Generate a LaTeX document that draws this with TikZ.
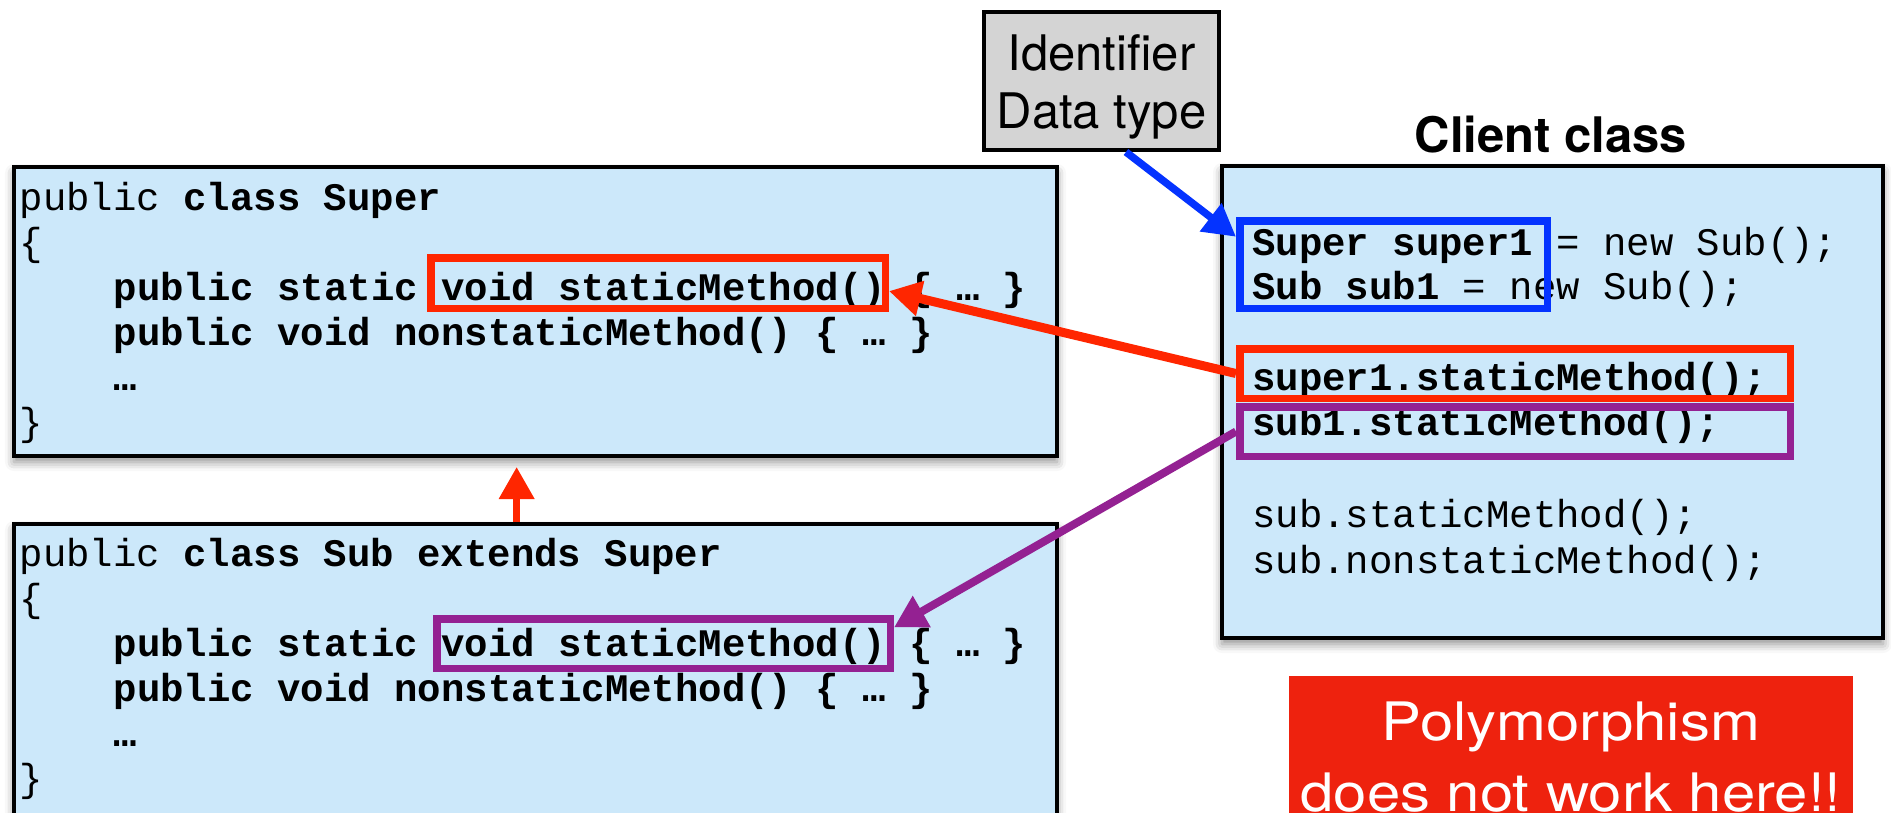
\documentclass[tikz,border=0pt]{standalone}
\usepackage{fontspec}
\usetikzlibrary{arrows.meta,shadows.blur,calc}
\newfontfamily\codefont{Liberation Mono}
\newfontfamily\labelfont{TeX Gyre Heros}
\newfontfamily\bannerfont[FakeStretch=1.13]{TeX Gyre Heros}
\definecolor{boxblue}{RGB}{204,232,250}
\definecolor{idgray}{RGB}{212,212,212}
\definecolor{hlred}{RGB}{255,38,0}
\definecolor{hlpurple}{RGB}{148,33,146}
\definecolor{hlblue}{RGB}{4,51,255}
\definecolor{bannerred}{RGB}{238,34,14}
\begin{document}
\begin{tikzpicture}[x=1pt,y=-1pt,
  codebox/.style={draw=black, line width=4pt, fill=boxblue, inner sep=0pt,
    blur shadow={shadow xshift=0pt, shadow yshift=-6pt, shadow blur radius=9pt, shadow opacity=45}},
  codeline/.style={anchor=base west, inner sep=0pt,
    font=\codefont\fontsize{39}{45}\selectfont\frenchspacing},
  hl/.style={draw=#1, line width=7.5pt, inner sep=0pt},
  pointer/.style={draw=#1, line width=8pt, -{Triangle[length=32pt,width=34pt]}},
  idtext/.style={inner sep=0pt, anchor=base, font=\labelfont\fontsize{49}{58}\selectfont},
  bannertext/.style={inner sep=0pt, anchor=base, text=white,
    font=\bannerfont\fontsize{53}{70}\selectfont},
]
\useasboundingbox (0,0) rectangle (1891,812);
\clip (0,0) rectangle (1891,812);

% class boxes
\node[codebox, minimum width=1043pt, minimum height=289pt] (superbox) at (535.5,311.5) {};
\node[codebox, minimum width=1043pt, minimum height=316pt] (subbox) at (535.5,682) {};
\node[codebox, minimum width=661pt, minimum height=472pt] (clientbox) at (1552.5,402) {};

% callout box and banner
\node[draw=black, line width=4pt, fill=idgray, inner sep=0pt,
      minimum width=235pt, minimum height=138pt] (idbox) at (1101.5,81) {};
\node[idtext] (idword) at (1101.5,70) {Identifier};
\node[idtext] (idtype) at (1101.5,128) {Data type};
\node[idtext, font=\labelfont\bfseries\fontsize{49}{58}\selectfont] (clienttitle) at (1551,152) {Client class};

\node[fill=bannerred, inner sep=0pt, minimum width=564pt, minimum height=160pt] (banner) at (1571,756) {};
\node[bannertext] (poly1) at (1571,740) {Polymorphism};
\node[bannertext] (poly2) at (1571,811) {does not work here!!};

% class Super
\node[codeline] (sup1) at (19.5,210) {public \bfseries class Super};
\node[codeline] (sup2) at (19.5,255) {\{};
\node[codeline] (sup3) at (113.5,300) {\bfseries public static void staticMethod() \{ … \}};
\node[codeline] (sup4) at (113.5,345) {\bfseries public void nonstaticMethod() \{ … \}};
\node[codeline] (sup5) at (113.5,390) {\bfseries …};
\node[codeline] (sup6) at (19.5,435) {\}};

% class Sub
\node[codeline] (sub1) at (19.5,566) {public \bfseries class Sub extends Super};
\node[codeline] (sub2) at (19.5,611) {\{};
\node[codeline] (sub3) at (113.5,656) {\bfseries public static void staticMethod() \{ … \}};
\node[codeline] (sub4) at (113.5,701) {\bfseries public void nonstaticMethod() \{ … \}};
\node[codeline] (sub5) at (113.5,746) {\bfseries …};
\node[codeline] (sub6) at (19.5,791) {\}};

% client code
\node[codeline] (cl1) at (1252,255) {{\bfseries Super super1} = new Sub();};
\node[codeline] (cl2) at (1252,299) {{\bfseries Sub sub1} = new Sub();};
\node[codeline] (cl3) at (1252,390) {\bfseries super1.staticMethod();};
\node[codeline] (cl4) at (1252,435) {\bfseries sub1.staticMethod();};
\node[codeline] (cl5) at (1252,527) {sub.staticMethod();};
\node[codeline] (cl6) at (1252,573) {sub.nonstaticMethod();};

% highlight frames
\node[hl=hlred, minimum width=454.5pt, minimum height=50.5pt] (superred) at (658,283) {};
\node[hl=hlpurple, minimum width=453.5pt, minimum height=49.5pt] (subpurple) at (663.5,643.5) {};
\node[hl=hlblue, minimum width=307.5pt, minimum height=87.5pt] (typebox) at (1393.5,264.5) {};
\node[hl=hlred, minimum width=550.5pt, minimum height=49.5pt] (callred) at (1515,373.5) {};
\node[hl=hlpurple, minimum width=550.5pt, minimum height=49.5pt] (callpurple) at (1515,431.5) {};

% connectors
\draw[pointer=hlred, line width=7pt, shorten >=9pt]
  ($(subbox.north west)!0.482!(subbox.north east)$) -- ($(superbox.south west)!0.482!(superbox.south east)$);
\draw[pointer=hlblue, line width=7.5pt] (idbox.-71) -- (typebox.170);
\draw[pointer=hlred, line width=9pt] (callred.west) -- (superred.-2);
\draw[pointer=hlpurple] (callpurple.west) -- (subpurple.4);
\end{tikzpicture}
\end{document}
